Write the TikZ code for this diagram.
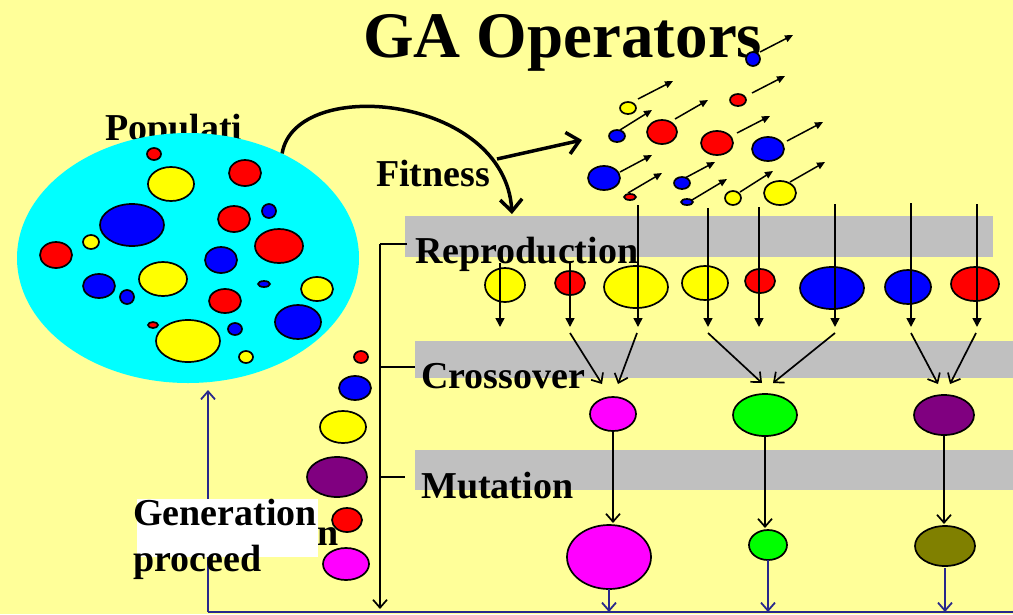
\documentclass[tikz,border=0pt]{standalone}
\usepackage{fontspec}
\setmainfont{Liberation Serif}
\usetikzlibrary{arrows.meta,shapes.geometric}

\definecolor{bg}{RGB}{255,255,153}
\definecolor{band}{RGB}{192,192,192}
\definecolor{navy}{RGB}{40,40,140}
\definecolor{purp}{RGB}{128,0,128}
\definecolor{oliv}{RGB}{128,128,0}
\definecolor{grn}{RGB}{0,255,0}
\definecolor{mag}{RGB}{255,0,255}
\definecolor{yel}{RGB}{255,255,0}
\definecolor{rd}{RGB}{255,0,0}
\definecolor{bl}{RGB}{0,0,255}
\definecolor{cy}{RGB}{0,255,255}

\tikzset{
  ball/.style={ellipse, draw=black, line width=1.7pt, inner sep=0pt, outer sep=0pt},
  lbl/.style={anchor=base west, inner sep=0pt, font=\bfseries\fontsize{38}{40}\selectfont},
  titlelbl/.style={anchor=base west, inner sep=0pt, font=\bfseries\fontsize{65}{70}\selectfont},
  bandbox/.style={fill=band},
  smalltip/.style={-{Triangle[length=8pt,width=7pt]}, line width=1.5pt},
  droptip/.style={-{Triangle[length=9pt,width=9pt]}, line width=1.6pt},
  veetip/.style={-{Straight Barb[length=8pt,width=14pt]}, line width=1.7pt},
  bigvee/.style={-{Straight Barb[length=12pt,width=22pt]}, line width=3.5pt},
  navyline/.style={draw=navy, line width=1.8pt},
  navytip/.style={navyline, -{Straight Barb[length=8pt,width=14pt]}},
}

% \ballnode{name}{x}{y}{rx}{ry}{fill colour}
\newcommand\ballnode[6]{%
  \node[ball, fill=#6, minimum width={(2*#4)*1pt}, minimum height={(2*#5)*1pt}] (#1) at (#2,#3) {};}

\begin{document}
\begin{tikzpicture}[x=1pt,y=-1pt]
\fill[bg] (0,0) rectangle (1013,614);
\useasboundingbox (0,0) rectangle (1013,614);

% operator bands
\fill[bandbox] (405,216) rectangle (993,257);
\fill[bandbox] (415,341) rectangle (1013,378);
\fill[bandbox] (415,450) rectangle (1013,490);

% labels
\node[titlelbl] (title) at (363,57) {GA Operators};
\node[lbl] (tPop) at (105,140) {Populati};
\node[lbl] (tFit) at (376,186) {Fitness};
\node[lbl] (tRep) at (415,263) {Reproduction};
\node[lbl] (tCro) at (421,388) {Crossover};
\node[lbl] (tMut) at (421,498) {Mutation};

% population
\node[ellipse, fill=cy, minimum width=342pt, minimum height=250pt, inner sep=0pt] (pop) at (188,258) {};
\ballnode{q1}{154}{154}{7}{6}{rd}
\ballnode{q2}{171}{184}{23}{17}{yel}
\ballnode{q3}{245}{173}{16}{13}{rd}
\ballnode{q4}{132}{225}{32}{21}{bl}
\ballnode{q5}{234}{219}{16}{13}{rd}
\ballnode{q6}{269}{211}{7}{7}{bl}
\ballnode{q7}{91}{242}{8}{7}{yel}
\ballnode{q8}{56}{255}{16}{13}{rd}
\ballnode{q9}{279}{246}{24}{17}{rd}
\ballnode{q10}{221}{260}{16}{13}{bl}
\ballnode{q11}{163}{279}{24}{17}{yel}
\ballnode{q12}{99}{286}{16}{12}{bl}
\ballnode{q13}{127}{297}{7}{7}{bl}
\ballnode{q14}{225}{301}{16}{12}{rd}
\ballnode{q15}{264}{284}{6}{3}{bl}
\ballnode{q16}{317}{289}{16}{12}{yel}
\ballnode{q17}{298}{322}{23}{17}{bl}
\ballnode{q18}{153}{325}{5}{3}{rd}
\ballnode{q19}{188}{341}{32}{21}{yel}
\ballnode{q20}{235}{329}{7}{6}{bl}
\ballnode{q21}{246}{357}{7}{6}{yel}

% fitness curve and branch
\coordinate (fitEnd) at (512,214);
\coordinate (fork) at (497,159);
\coordinate (fitTip) at (582,140);
\draw[bigvee] (pop.48) .. controls (295,75) and (505,95) .. (fitEnd);
\draw[bigvee] (fork) -- (fitTip);

% evaluated individuals
\ballnode{f1}{753}{59}{7}{7}{bl}
\ballnode{f2}{628}{108}{8}{6}{yel}
\ballnode{f3}{738}{100}{8}{6}{rd}
\ballnode{f4}{617}{136}{8}{6}{bl}
\ballnode{f5}{662}{132}{15}{12}{rd}
\ballnode{f6}{717}{143}{16}{12}{rd}
\ballnode{f7}{768}{149}{16}{12}{bl}
\ballnode{f8}{604}{178}{16}{12}{bl}
\ballnode{f9}{630}{197}{6}{3}{rd}
\ballnode{f10}{682}{183}{8}{6}{bl}
\ballnode{f11}{687}{202}{6}{3}{bl}
\ballnode{f12}{733}{198}{8}{7}{yel}
\ballnode{f13}{780}{193}{16}{12}{yel}
\draw[smalltip] ([shift={(7,-7)}]f1.center) -- ++(33,-17);
\draw[smalltip] ([shift={(10,-9)}]f2.center) -- ++(35,-18);
\draw[smalltip] ([shift={(14,-7)}]f3.center) -- ++(33,-17);
\draw[smalltip] ([shift={(3,-6)}]f4.center) -- ++(32,-20);
\draw[smalltip] ([shift={(13,-13)}]f5.center) -- ++(33,-19);
\draw[smalltip] ([shift={(20,-10)}]f6.center) -- ++(33,-17);
\draw[smalltip] ([shift={(19,-8)}]f7.center) -- ++(36,-19);
\draw[smalltip] ([shift={(16,-6)}]f8.center) -- ++(32,-17);
\draw[smalltip] ([shift={(-2,-4)}]f9.center) -- ++(34,-20);
\draw[smalltip] ([shift={(3,-5)}]f10.center) -- ++(30,-16);
\draw[smalltip] ([shift={(5,-2)}]f11.center) -- ++(35,-21);
\draw[smalltip] ([shift={(7,-6)}]f12.center) -- ++(33,-21);
\draw[smalltip] ([shift={(10,-11)}]f13.center) -- ++(35,-20);

% reproduced individuals
\ballnode{p1}{505}{285}{20}{17}{yel}
\ballnode{p2}{570}{283}{15}{12}{rd}
\ballnode{p3}{636}{287}{32}{21}{yel}
\ballnode{p4}{705}{283}{23}{17}{yel}
\ballnode{p5}{760}{281}{15}{12}{rd}
\ballnode{p6}{832}{288}{32}{21}{bl}
\ballnode{p7}{908}{287}{23}{17}{bl}
\ballnode{p8}{975}{284}{24}{17}{rd}

\foreach \i/\x/\y in {1/500/263, 2/570/263, 3/638/205, 4/708/208, 5/759/207, 6/835/204, 7/911/203, 8/977/204}{
  \coordinate (ra\i) at (\x,\y);
  \coordinate (rb\i) at (\x,327);
  \draw[droptip] (ra\i) -- (rb\i);
}

% crossover offspring
\ballnode{c1}{613}{414}{23}{17}{mag}
\ballnode{c2}{765}{415}{32}{21}{grn}
\ballnode{c3}{944}{415}{30}{20}{purp}

\foreach \s/\sy/\t/\ty [count=\k] in {570/333/602/384, 637/333/618/384, 708/333/762/383, 835/333/773/383, 911/333/938/384, 976/333/950/384}{
  \coordinate (xa\k) at (\s,\sy);
  \coordinate (xb\k) at (\t,\ty);
  \draw[veetip] (xa\k) -- (xb\k);
}

% mutated offspring
\ballnode{m1}{609}{557}{42}{32}{mag}
\ballnode{m2}{768}{545}{19}{15}{grn}
\ballnode{m3}{945}{546}{30}{20}{oliv}
\draw[veetip] (c1.south) -- ([yshift=2pt]c1.south |- m1.north);
\draw[veetip] (c2.south) -- ([yshift=2pt]c2.south |- m2.north);
\draw[veetip] (c3.south) -- ([yshift=2pt]c3.south |- m3.north);

% next generation loop
\coordinate (floorL) at (208,612);
\coordinate (floorR) at (1013,612);
\coordinate (loopTip) at (208,390);
\draw[navyline] (floorR) -- (floorL);
\draw[navytip] (floorL) -- (loopTip);
\draw[navytip] (m1.south) -- (m1.south |- floorL);
\draw[navytip] (m2.south) -- (m2.south |- floorL);
\draw[navytip] ([yshift=-2pt]m3.south) -- (m3.south |- floorL);

% operator sequence spine
\coordinate (spTop) at (380,244);
\coordinate (spBot) at (380,609);
\coordinate (brRep) at (407,244);
\coordinate (brCroA) at (380,367);
\coordinate (brCroB) at (415,367);
\coordinate (brMutA) at (380,477);
\coordinate (brMutB) at (405,477);
\draw[line width=1.7pt] (brRep) -- (spTop);
\draw[veetip] (spTop) -- (spBot);
\draw[line width=1.7pt] (brCroA) -- (brCroB);
\draw[line width=1.7pt] (brMutA) -- (brMutB);

% new population column
\ballnode{L1}{361}{357}{7}{6}{rd}
\ballnode{L2}{355}{388}{16}{12}{bl}
\ballnode{L3}{343}{427}{23}{16}{yel}
\ballnode{L4}{337}{477}{30}{20}{purp}
\ballnode{L5}{347}{520}{15}{12}{rd}
\ballnode{L6}{346}{564}{23}{16}{mag}

% generation label
\node[lbl] (tN) at (317,545) {n};
\fill[white] (137,499) rectangle (318,557);
\node[lbl] (tGen) at (133,525) {Generation};
\node[lbl] (tProc) at (133,571) {proceed};
\end{tikzpicture}
\end{document}
